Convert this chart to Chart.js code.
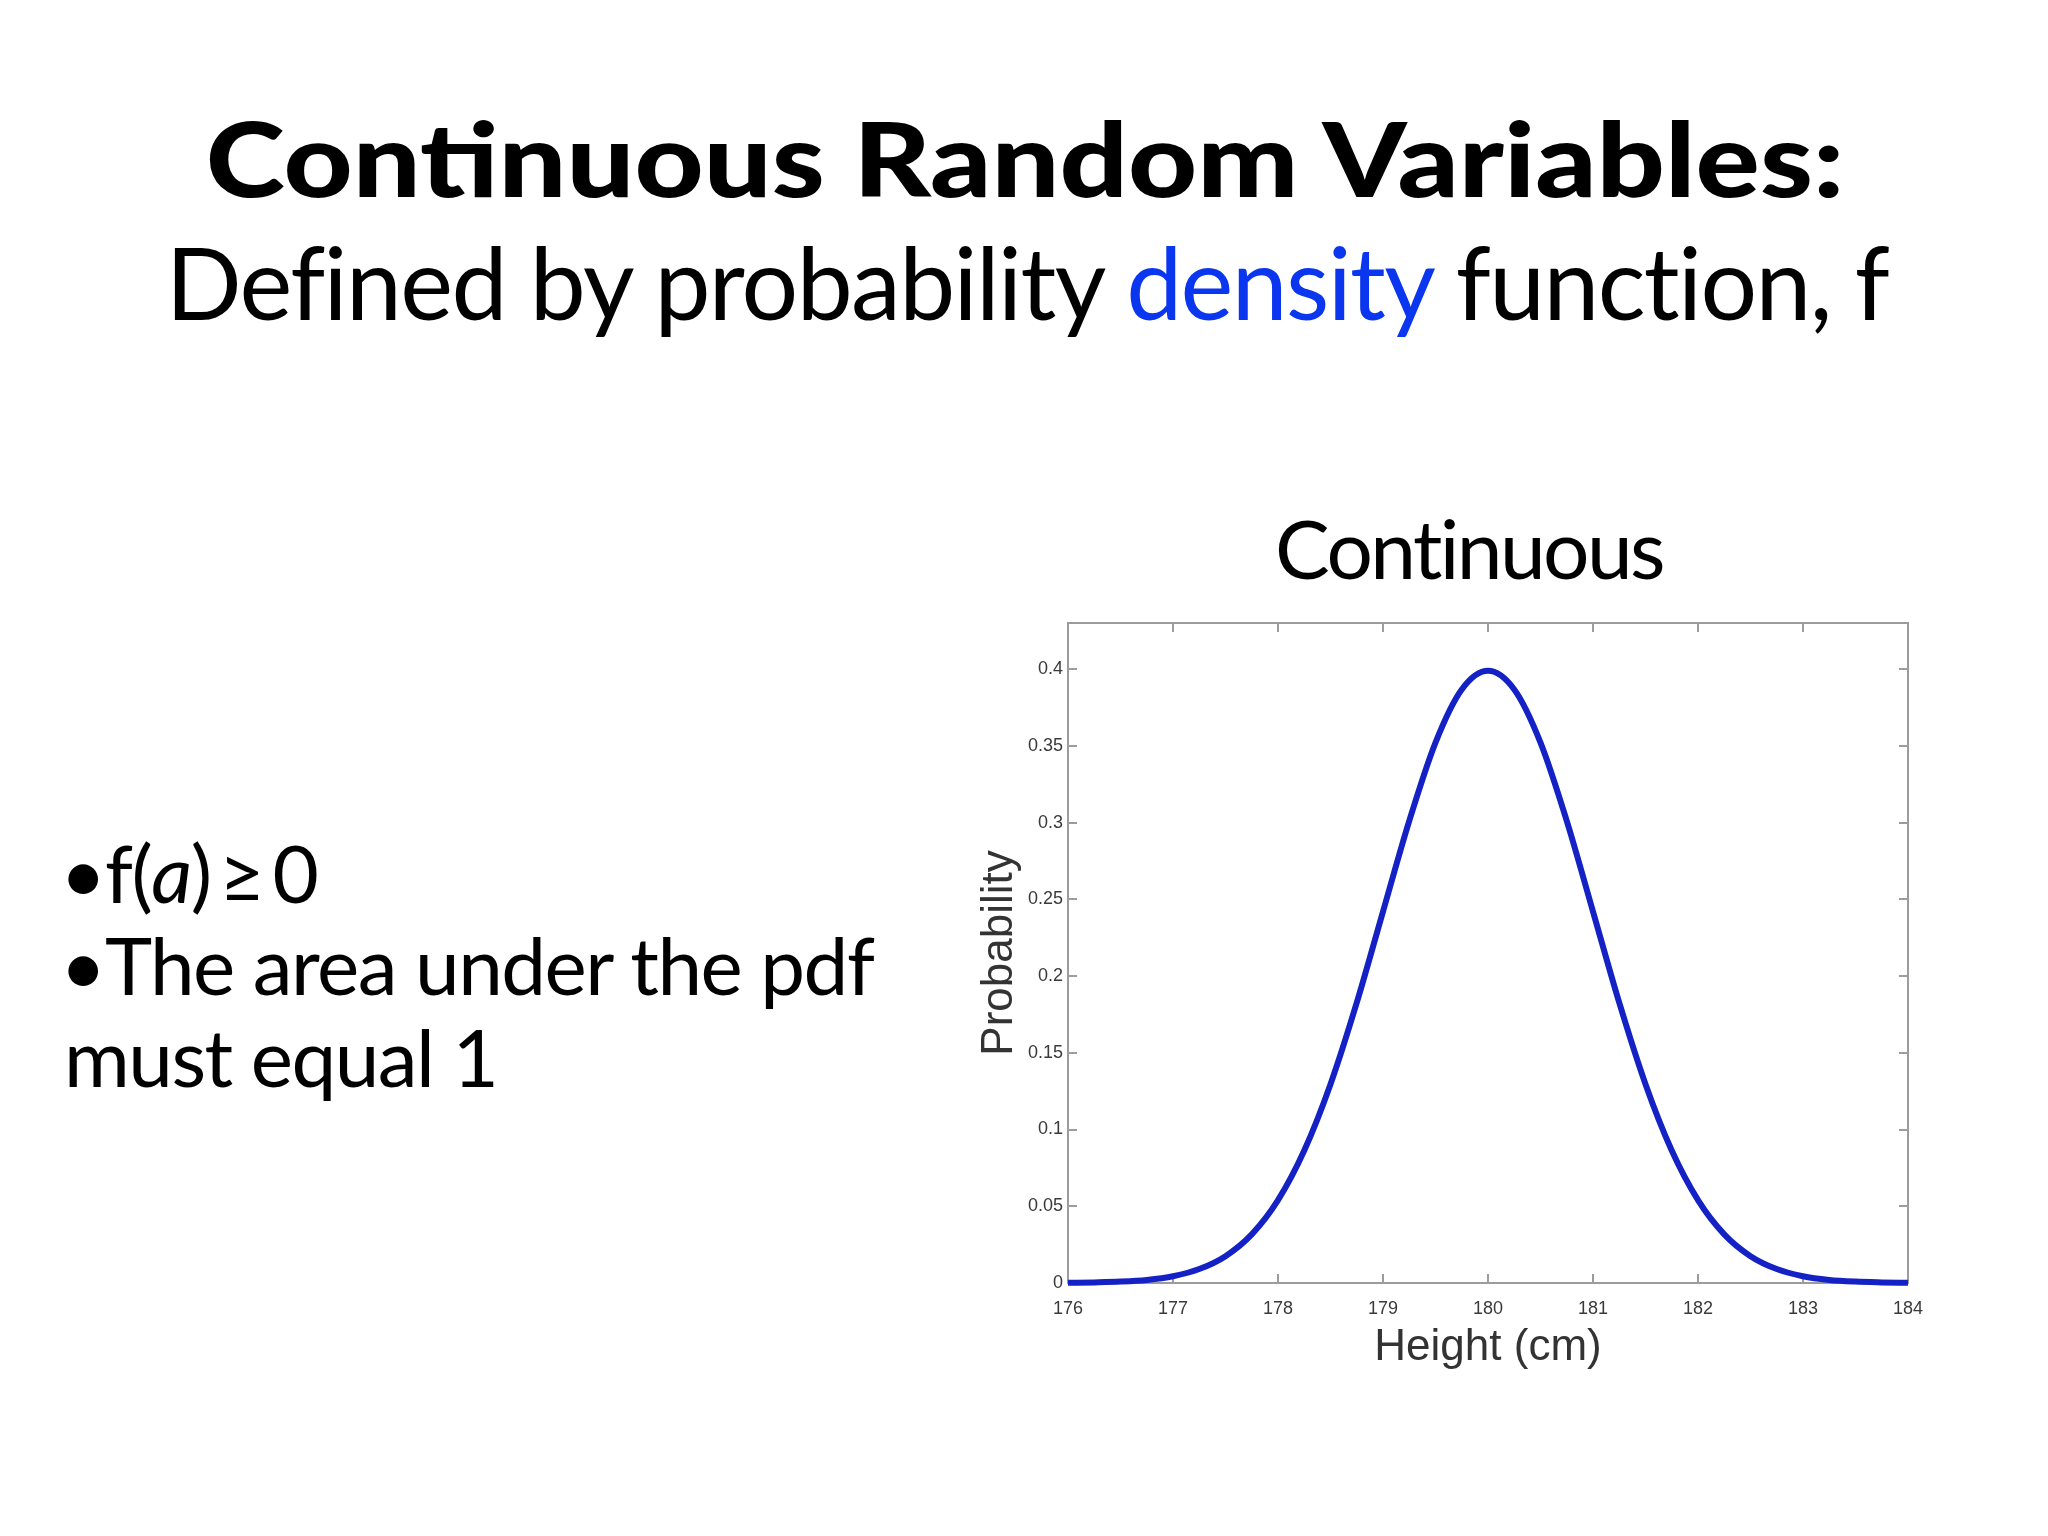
<!DOCTYPE html>
<html>
<head>
<meta charset="utf-8">
<script src="https://cdn.jsdelivr.net/npm/chart.js@4/dist/chart.umd.min.js"></script>
<style>
  html, body { margin: 0; padding: 0; background: #fff; }
  body { width: 2048px; height: 1536px; position: relative; overflow: hidden; font-family: Lato, "Open Sans", sans-serif; color: #000; }
  .line { position: absolute; line-height: 1; white-space: nowrap; }
  #title { left: 0; width: 2050px; text-align: center; top: 107px; font-size: 102px; font-weight: 900; transform: scaleX(1.176); transform-origin: 1025px 0; }
  #subtitle { left: 0; width: 2054px; text-align: center; top: 231px; font-size: 100px; font-weight: 400; letter-spacing: -1.6px; }
  #subtitle span { color: #0a36f0; }
  #chartTitle { left: 1269px; width: 400px; text-align: center; top: 506px; font-size: 82px; letter-spacing: -2.6px; }
  .bullet { left: 60px; font-size: 80px; letter-spacing: -1.5px; }
  #chartBox { position: absolute; left: 900px; top: 580px; width: 1100px; height: 820px; }
</style>
</head>
<body>
<div class="line" id="title">Continuous Random Variables:</div>
<div class="line" id="subtitle">Defined by probability <span>density</span> function, f</div>
<div class="line" id="chartTitle">Continuous</div>
<div class="line bullet" style="top:832px">•f(<i>a</i>)&#8201;≥&#8201;0</div>
<div class="line bullet" style="top:924px">•The area under the pdf</div>
<div class="line bullet" style="top:1016px; left:64px">must equal 1</div>
<div id="chartBox"><canvas id="pdfChart" width="1100" height="820"></canvas></div>
<script>
// values, every quarter cm
var heights = [176, 176.25, 176.5, 176.75, 177, 177.25, 177.5, 177.75, 178, 178.25, 178.5, 178.75,
               179, 179.25, 179.5, 179.75, 180, 180.25, 180.5, 180.75, 181, 181.25, 181.5, 181.75,
               182, 182.25, 182.5, 182.75, 183, 183.25, 183.5, 183.75, 184];
var probability = [0.0001, 0.0004, 0.0009, 0.002, 0.0044, 0.0091, 0.0175, 0.0317, 0.054, 0.0863, 0.1295, 0.1826,
                   0.242, 0.3011, 0.3521, 0.3867, 0.3989, 0.3867, 0.3521, 0.3011, 0.242, 0.1826, 0.1295, 0.0863,
                   0.054, 0.0317, 0.0175, 0.0091, 0.0044, 0.002, 0.0009, 0.0004, 0.0001];
var xTicks = [176, 177, 178, 179, 180, 181, 182, 183, 184];
var yTicks = [0, 0.05, 0.1, 0.15, 0.2, 0.25, 0.3, 0.35, 0.4];
var yTickLabels = ["0", "0.05", "0.1", "0.15", "0.2", "0.25", "0.3", "0.35", "0.4"];

var axisColor = "#9c9c9c";

// matlab style box with ticks pointing inwards
var boxTicks = {
    id: "boxTicks",
    beforeDatasetsDraw: function (chart) {
        var ctx = chart.ctx;
        var a = chart.chartArea;
        var x = chart.scales.x;
        var y = chart.scales.y;
        ctx.save();
        ctx.strokeStyle = axisColor;
        ctx.lineWidth = 2;
        ctx.strokeRect(a.left, a.top, a.right - a.left, a.bottom - a.top);
        ctx.beginPath();
        x.ticks.forEach(function (t) {
            var px = Math.round(x.getPixelForValue(t.value));
            ctx.moveTo(px, a.bottom); ctx.lineTo(px, a.bottom - 9);
            ctx.moveTo(px, a.top); ctx.lineTo(px, a.top + 9);
        });
        y.ticks.forEach(function (t) {
            var py = Math.round(y.getPixelForValue(t.value));
            ctx.moveTo(a.left, py); ctx.lineTo(a.left + 9, py);
            ctx.moveTo(a.right, py); ctx.lineTo(a.right - 9, py);
        });
        ctx.stroke();
        ctx.restore();
    }
};

var ctx = document.getElementById("pdfChart").getContext("2d");
var pdfChart = new Chart(ctx, {
    type: "line",
    data: {
        datasets: [
            {
                label: "pdf",
                data: heights.map(function (h, i) { return { x: h, y: probability[i] }; }),
                borderColor: "#1421c4",
                borderWidth: 6,
                pointRadius: 0,
                cubicInterpolationMode: "monotone",
                fill: false,
                clip: false
            }
        ]
    },
    options: {
        responsive: false,
        animation: false,
        devicePixelRatio: 1,
        layout: { padding: { left: 0, right: 92, top: 43, bottom: 0 } },
        plugins: { legend: { display: false }, tooltip: { enabled: false } },
        scales: {
            x: {
                type: "linear",
                min: 176,
                max: 184,
                afterBuildTicks: function (scale) {
                    scale.ticks = xTicks.map(function (v) { return { value: v }; });
                },
                afterFit: function (scale) { scale.height = 117; },
                grid: { display: false, drawTicks: false },
                border: { display: false },
                ticks: {
                    autoSkip: false,
                    maxRotation: 0,
                    padding: 15,
                    color: "#3a3a3a",
                    font: { family: "Liberation Sans", size: 18 }
                },
                title: {
                    display: true,
                    text: "Height (cm)",
                    color: "#333",
                    font: { family: "Liberation Sans", size: 44, lineHeight: 1.2 },
                    padding: { top: 0, bottom: 26 }
                }
            },
            y: {
                min: 0,
                max: 0.43,
                afterBuildTicks: function (scale) {
                    scale.ticks = yTicks.map(function (v) { return { value: v }; });
                },
                afterFit: function (scale) { scale.width = 168; },
                grid: { display: false, drawTicks: false },
                border: { display: false },
                ticks: {
                    padding: 5,
                    color: "#3a3a3a",
                    font: { family: "Liberation Sans", size: 18 },
                    callback: function (value) {
                        var i = yTicks.indexOf(value);
                        return i >= 0 ? yTickLabels[i] : "";
                    }
                },
                title: {
                    display: true,
                    text: "Probability",
                    color: "#333",
                    font: { family: "Liberation Sans", size: 44, lineHeight: 1.2 },
                    padding: { top: 73, bottom: 0 }
                }
            }
        }
    },
    plugins: [boxTicks]
});
</script>
</body>
</html>
